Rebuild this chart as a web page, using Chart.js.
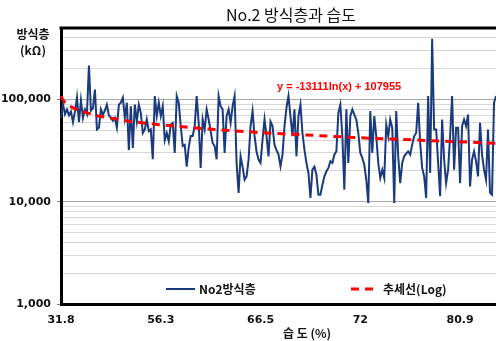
<!DOCTYPE html>
<html>
<head>
<meta charset="utf-8">
<script src="https://cdn.jsdelivr.net/npm/chart.js@4.4.0/dist/chart.umd.min.js"></script>
<style>
  html, body { margin: 0; padding: 0; background: #fff; overflow: hidden; }
</style>
</head>
<body>
<canvas id="chart" width="496" height="341"></canvas>
<script>
// 습도 축 라벨 (50개 측정점마다 하나)
const humidityTicks = ['31.8', '56.3', '66.5', '72', '80.9'];
const tickEvery = 50;

// No2 방식층 저항 (kΩ)
const resistance = [
  66000, 90000, 72000, 80000, 70000, 76000, 60000, 76000, 105000, 60000,
  98000, 66000, 80000, 72000, 215000, 78000, 82000, 125000, 51000, 53000,
  80000, 71000, 78000, 89000, 70000, 66000, 62000, 66000, 53000, 89000,
  93000, 104000, 66000, 93000, 32000, 86000, 33600,
  89000, 61000, 89000, 74000, 47000, 51000, 64000, 49000, 51000, 26000,
  108000, 69000, 93000, 69000, 86000, 40000, 47000, 39000, 57000, 59000,
  30000, 108000, 93000, 55000, 35000, 36000, 22000, 34000, 44000, 44000,
  55000, 108000, 59000, 21400, 64000, 51000,
  80000, 64000, 49000, 37600, 35000, 26000, 108000, 86000, 80000, 30000,
  69000, 80000, 59000, 86000, 108000, 24000, 12200, 27800, 22000, 16400,
  17700, 25800, 55000, 77000, 44000, 31000, 25800, 24000, 40500, 64000,
  44000, 27800, 61000, 55000, 36000, 32000,
  28900, 22200, 28900, 54800, 83000, 108000, 68700, 43700, 80000, 27800,
  68700, 89000, 47000, 32300, 24000, 19100, 10900, 20600, 22000, 18400,
  11700, 11700, 14600, 17700, 19800, 21400, 24900, 24000, 28900, 31100,
  74000, 89000, 43700, 13100, 80000, 24000,
  68700, 80000, 71000, 63700, 47000, 30000, 26800, 23000, 16400, 9700,
  77000, 30000, 68700, 43700, 24000, 17100, 20600, 17100, 57000, 43700,
  63700, 52800, 9700, 77000, 27800, 15200, 24000, 27800, 29500, 31000,
  28900, 36200, 43700, 47000, 92700, 37600,
  21400, 17700, 10900, 108000, 19100, 393000, 50800, 50800, 24000, 11300,
  63700, 25800, 15200, 20600, 43700, 108000, 20600, 52800, 52800, 15200,
  54800, 63700, 54800, 71300, 14100, 25800, 31100, 24900, 17700, 59100,
  28900, 20600, 16400, 50800, 12200, 11700, 92700, 108000
];

// 추세선(Log): y = -13111ln(x) + 107955, 몇 개 지점의 값
const trendAt = [1, 2, 3, 5, 10, 20, 35, 50, 75, 100, 150, 219];
const trendValues = [107955, 98867, 93551, 86854, 77766, 68678, 61341, 56665, 51349, 47577, 42261, 37299];

const yLabelTicks = [1000, 10000, 100000];
const yMin = 1000, yMax = 500000;

const categories = resistance.map((_, i) => i % tickEvery === 0 ? humidityTicks[i / tickEvery] : '');
const trendSeries = resistance.map(() => null);
trendAt.forEach((x, k) => { trendSeries[x - 1] = trendValues[k]; });

const yTickValues = [];
yLabelTicks.forEach(d => {
  for (let m = 1; m <= 9; m++) if (d * m <= yMax) yTickValues.push(d * m);
});

const korFont = '"Noto Sans CJK KR", "Noto Sans", sans-serif';
const numFont = '"DejaVu Sans", sans-serif';

const overlay = {
  id: 'overlay',
  afterDraw(chart) {
    const { ctx, chartArea: a } = chart;
    ctx.save();
    // 위쪽 테두리
    ctx.strokeStyle = '#000';
    ctx.lineWidth = 3;
    ctx.beginPath();
    ctx.moveTo(a.left - 1.5, a.top);
    ctx.lineTo(a.right, a.top);
    ctx.stroke();

    ctx.textBaseline = 'middle';
    ctx.fillStyle = '#111';
    ctx.textAlign = 'center';
    ctx.font = '16px ' + korFont;
    ctx.fillText('No.2 방식층과 습도', 291, 15);

    ctx.font = 'bold 12px ' + korFont;
    ctx.fillText('방식층', 33, 34);
    ctx.fillText('(kΩ)', 33, 50);
    ctx.fillText('습 도 (%)', 307, 333);

    // 추세식
    ctx.fillStyle = '#ff0000';
    ctx.textAlign = 'left';
    ctx.font = 'bold 11px "Liberation Sans", sans-serif';
    ctx.fillText('y = -13111ln(x) + 107955', 277, 87);

    // 범례
    ctx.lineWidth = 2;
    ctx.strokeStyle = '#1a3a7c';
    ctx.beginPath();
    ctx.moveTo(166, 289);
    ctx.lineTo(195, 289);
    ctx.stroke();
    ctx.strokeStyle = '#ff0000';
    ctx.lineWidth = 3;
    ctx.setLineDash([8, 6]);
    ctx.beginPath();
    ctx.moveTo(351, 289);
    ctx.lineTo(373, 289);
    ctx.stroke();
    ctx.setLineDash([]);
    ctx.fillStyle = '#111';
    ctx.font = 'bold 12px ' + korFont;
    ctx.fillText('No2방식층', 199, 289);
    ctx.fillText('추세선(Log)', 383, 289);
    ctx.restore();
  }
};

new Chart(document.getElementById('chart'), {
  type: 'line',
  data: {
    labels: categories,
    datasets: [
      {
        label: '추세선(Log)',
        data: trendSeries,
        borderColor: '#ff0000',
        borderWidth: 3,
        borderDash: [8, 6],
        pointRadius: 0,
        spanGaps: true,
        order: 0
      },
      {
        label: 'No2방식층',
        data: resistance,
        borderColor: '#1a3a7c',
        borderWidth: 2,
        pointRadius: 0,
        tension: 0,
        order: 1
      }
    ]
  },
  options: {
    responsive: false,
    animation: false,
    devicePixelRatio: 1,
    layout: { padding: { top: 28, right: 0, left: 0, bottom: 0 } },
    plugins: {
      legend: { display: false },
      title: { display: false },
      tooltip: { enabled: false }
    },
    scales: {
      x: {
        type: 'category',
        grid: { display: false, drawTicks: false },
        border: { display: true, color: '#000', width: 3 },
        ticks: {
          autoSkip: false,
          maxRotation: 0,
          padding: 10,
          color: '#111',
          font: { family: numFont, size: 11, weight: 'bold' }
        },
        afterFit(scale) {
          scale.height = 37;
          scale.paddingLeft = 0;
          scale.paddingRight = 0;
        }
      },
      y: {
        type: 'logarithmic',
        min: yMin,
        max: yMax,
        afterBuildTicks(scale) {
          scale.ticks = yTickValues.map(v => ({ value: v }));
        },
        afterFit(scale) {
          scale.width = 61;
          scale.paddingTop = 0;
          scale.paddingBottom = 0;
        },
        border: { display: true, color: '#000', width: 3 },
        grid: {
          tickLength: 4,
          color(c) {
            const v = c.tick && c.tick.value;
            if (v === yMin) return 'rgba(0,0,0,0)';
            return yLabelTicks.includes(v) ? '#a8a8a8' : '#d6d6d6';
          },
          tickColor(c) {
            const v = c.tick && c.tick.value;
            return yLabelTicks.includes(v) ? '#808080' : 'rgba(0,0,0,0)';
          }
        },
        ticks: {
          autoSkip: false,
          padding: 6,
          color: '#111',
          font: { family: numFont, size: 11, weight: 'bold' },
          callback(v) {
            return yLabelTicks.includes(v) ? v.toLocaleString('en-US') : '';
          }
        }
      }
    }
  },
  plugins: [overlay]
});
</script>
</body>
</html>
